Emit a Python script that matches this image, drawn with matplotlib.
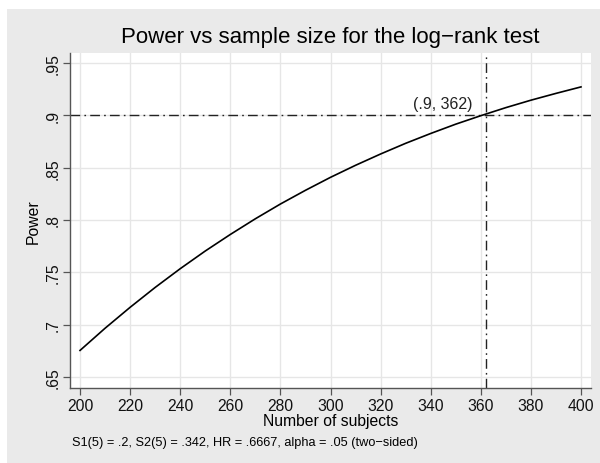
import matplotlib
matplotlib.use("Agg")
import matplotlib.pyplot as plt
from matplotlib.patches import Rectangle

plt.rcParams['font.family'] = ['Liberation Sans', 'DejaVu Sans']

# values
n_subjects = [200, 210, 220, 230, 240, 250, 260, 270, 280, 290, 300,
              310, 320, 330, 340, 350, 360, 370, 380, 390, 400]
power = [0.6754, 0.6966, 0.7166, 0.7356, 0.7535, 0.7704, 0.7862, 0.8012,
         0.8153, 0.8284, 0.8408, 0.8523, 0.8631, 0.8733, 0.8827, 0.8916,
         0.8997, 0.9074, 0.9145, 0.9210, 0.9272]
target_power = 0.9
target_n = 362
xticks = [200, 220, 240, 260, 280, 300, 320, 340, 360, 380, 400]
yticks = [0.65, 0.7, 0.75, 0.8, 0.85, 0.9, 0.95]
ytick_labels = ['.65', '.7', '.75', '.8', '.85', '.9', '.95']

W, H = 600, 464
fig = plt.figure(figsize=(6, 4.64), dpi=100, facecolor='white')
bg = '#EAEAEA'
fig.patches.append(Rectangle((7 / W, 0), 1 - 7 / W, 1 - 10 / H,
                             transform=fig.transFigure, facecolor=bg,
                             edgecolor='none', zorder=-10))

ax = fig.add_axes([70 / W, 1 - 389 / H, (591 - 70) / W, (389 - 54) / H])
ax.set_facecolor('white')

ax.plot(n_subjects, power, color='black', lw=1.2, zorder=3)
dashdot = (0, (7, 3, 1.2, 3))
ax.axhline(target_power, color='#222222', lw=1.0, linestyle=dashdot, zorder=2)
ax.axvline(target_n, color='#222222', lw=1.0, linestyle=dashdot, zorder=2)
ax.text(target_n - 5.5, target_power + 0.004, '(.9, 362)', ha='right',
        va='bottom', fontsize=11.5, color='#222222')

ax.set_xlim(196, 404)
ax.set_ylim(0.6395, 0.9596)
ax.set_xticks(xticks)
ax.set_yticks(yticks)
ax.set_yticklabels(ytick_labels, rotation=90, va='center')
ax.grid(True, color='#E6E6E6', lw=1.0, zorder=0)
ax.set_axisbelow(True)

for side in ['top', 'right']:
    ax.spines[side].set_visible(False)
for side in ['left', 'bottom']:
    ax.spines[side].set_color('#555555')
    ax.spines[side].set_linewidth(1.0)
ax.tick_params(axis='both', direction='out', length=5, width=0.9,
               color='#555555', labelsize=11.3, labelcolor='#111111', pad=2)

ax.set_xlabel('Number of subjects', fontsize=11.3, labelpad=0)
ax.set_ylabel('Power', fontsize=11.3, labelpad=3)
fig.text(330 / W, 1 - 37 / H, 'Power vs sample size for the log\u2212rank test',
         ha='center', va='center', fontsize=16)
fig.text(72 / W, 1 - 443 / H,
         'S1(5) = .2, S2(5) = .342, HR = .6667, alpha = .05 (two\u2212sided)',
         ha='left', va='center', fontsize=9.2)

fig.savefig('out.png', dpi=100, facecolor='white')
